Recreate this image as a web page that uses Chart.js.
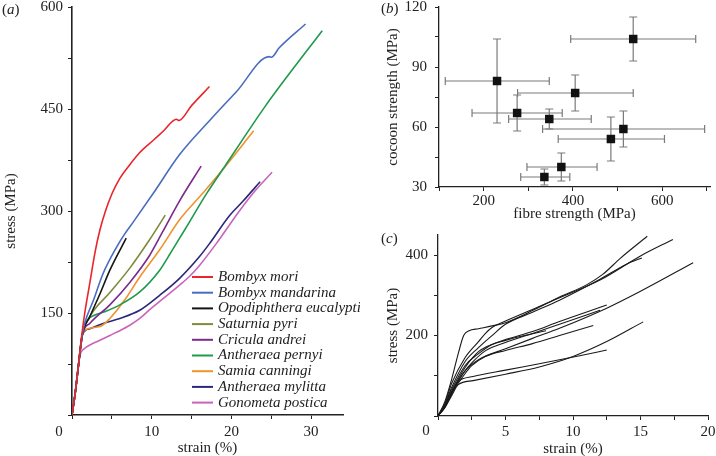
<!DOCTYPE html>
<html>
<head>
<meta charset="utf-8">
<script src="https://cdn.jsdelivr.net/npm/chart.js@4.4.0/dist/chart.umd.min.js"></script>
<style>
  html, body { margin: 0; padding: 0; background: #fff; }
  body { width: 716px; height: 456px; overflow: hidden; position: relative; font-family: 'Liberation Serif', serif; color: #222; }
  canvas { position: absolute; }
  #chartA { left: 0; top: 0; }
  #chartB { left: 360px; top: 0; }
  #chartC { left: 360px; top: 225px; }
  .tag { position: absolute; font-size: 15px; line-height: 17px; }
</style>
</head>
<body>
<canvas id="chartA" width="360" height="457"></canvas>
<canvas id="chartB" width="356" height="223"></canvas>
<canvas id="chartC" width="356" height="233"></canvas>
<div class="tag" style="left:2px;top:1px">(<i>a</i>)</div>
<div class="tag" style="left:381px;top:0px">(<i>b</i>)</div>
<div class="tag" style="left:381px;top:230px">(<i>c</i>)</div>
<script>
// ---- panel (a): stress-strain curves per species ----
const speciesNames = ['Bombyx mori', 'Bombyx mandarina', 'Opodiphthera eucalypti', 'Saturnia pyri',
  'Cricula andrei', 'Antheraea pernyi', 'Samia canningi', 'Antheraea mylitta', 'Gonometa postica'];

const moriStrain = [0, 0.4, 0.8, 1.2, 1.6, 2.25, 2.9, 3.5, 4.2, 5, 6, 7.25, 8.5, 10.2, 11.5, 13.1, 13.4, 15, 17.25];
const moriStress = [0, 32, 72, 115, 150, 195, 240, 272, 300, 325, 348, 368, 386, 404, 418, 435, 433, 455, 483];
const mandarinaStrain = [0, 0.4, 0.8, 1.3, 1.6, 2.7, 3.9, 5.6, 6.6, 7.7, 10.2, 13.5, 17.5, 20.6, 24.75, 25, 26, 29.3];
const mandarinaStress = [0, 32, 72, 118, 135, 169, 208, 247, 266, 284, 326, 383, 436, 475, 527, 526, 540, 575];
const opodStrain = [0, 0.4, 0.8, 1.3, 2.25, 3.5, 4.75, 6.8];
const opodStress = [0, 32, 72, 118, 145, 178, 213, 260];
const pyriStrain = [0, 0.4, 0.8, 1.3, 2.25, 4.75, 7.25, 9.75, 11.7];
const pyriStress = [0, 32, 72, 118, 145, 180, 216, 258, 294];
const criculaStrain = [0, 0.4, 0.8, 1.3, 2.25, 4.75, 7.25, 9.75, 11.4, 13.5, 16.2];
const criculaStress = [0, 32, 72, 118, 135, 162, 195, 235, 270, 315, 366];
const pernyiStrain = [0, 0.4, 0.8, 1.3, 2.0, 2.9, 4.1, 6, 8.5, 11, 12.25, 13.5, 14.75, 16.8, 19.3, 21.4, 24.3, 28.5, 31.4];
const pernyiStress = [0, 32, 72, 118, 140, 147, 152, 162, 181, 213, 236, 260, 284, 324, 368, 405, 455, 521, 565];
const samiaStrain = [0, 0.4, 0.8, 1.3, 1.6, 3.5, 4.75, 6.6, 8.5, 11, 13.5, 16.4, 18.5, 22.8];
const samiaStress = [0, 32, 72, 118, 125, 130, 142, 169, 203, 243, 287, 326, 355, 418];
const mylittaStrain = [0, 0.4, 0.8, 1.3, 2.25, 4, 6, 8.5, 11, 13.5, 16, 17.25, 19.75, 21.5, 23.6];
const mylittaStress = [0, 32, 72, 118, 127, 135, 142, 154, 176, 201, 233, 252, 293, 315, 343];
const posticaStrain = [0, 0.4, 0.8, 1.0, 1.5, 2.25, 3.5, 4.75, 6, 7.25, 8.5, 9.75, 11, 12.25, 13.5, 14.75, 16, 18.1, 21, 23, 25.1];
const posticaStress = [0, 32, 72, 88, 97, 103, 110, 117, 124, 132, 142, 155, 167, 179, 191, 204, 220, 252, 300, 330, 357];
const aStrainTicks = [0, 5, 10, 15, 20, 25, 30];
const aStressTicks = [0, 75, 150, 225, 300, 375, 450, 525, 600];

// ---- panel (b): fibre vs cocoon strength with error ranges ----
const fibreStrength = [535, 230, 275, 347, 405, 513, 485, 374, 336];
const fibreLow      = [395, 114, 174, 256, 276, 332, 367, 297, 283];
const fibreHigh     = [675, 347, 376, 441, 535, 695, 605, 454, 393];
const cocoonStrength = [104, 83, 67, 64, 77, 59, 54, 40, 35];
const cocoonLow      = [93, 62, 58, 59, 68, 50, 43, 33, 31];
const cocoonHigh     = [115, 104, 76, 69, 86, 68, 65, 47, 39];
const fibreTicks = [100, 200, 300, 400, 500, 600, 700];
const cocoonTicks = [30, 45, 60, 75, 90, 105, 120];

// ---- panel (c): individual fibre tests ----
const cStrain1 = [0, 0.5, 1, 1.5, 1.9, 2.3, 3, 4, 5, 7, 9, 11, 12.2, 13.5, 15.5];
const cStress1 = [0, 35, 90, 155, 200, 212, 217, 224, 232, 262, 296, 326, 352, 392, 447];
const cStrain2 = [0, 0.5, 1, 2, 3, 3.5, 4, 5, 7, 9, 12, 15, 17.4];
const cStress2 = [0, 30, 80, 145, 185, 205, 220, 236, 265, 294, 338, 398, 439];
const cStrain3 = [0, 0.5, 1, 2, 3, 4, 5, 7, 9, 12, 14, 15.1];
const cStress3 = [0, 28, 70, 135, 170, 200, 228, 258, 288, 340, 378, 393];
const cStrain4 = [0, 0.5, 1, 2, 3, 4, 5, 6, 8];
const cStress4 = [0, 25, 60, 120, 160, 178, 188, 197, 212];
const cStrain5 = [0, 0.5, 1, 2, 2.5, 3.5, 5, 7, 9, 11.5];
const cStress5 = [0, 22, 55, 105, 125, 148, 163, 180, 200, 225];
const cStrain6 = [0, 0.5, 1, 2, 2.5, 3.5, 5, 7, 9, 12];
const cStress6 = [0, 25, 58, 112, 132, 162, 183, 205, 228, 263];
const cStrain7 = [0, 0.5, 1, 2, 3, 4, 5, 7, 9, 12.5];
const cStress7 = [0, 28, 65, 125, 155, 178, 190, 210, 235, 276];
const cStrain8 = [0, 0.5, 1, 2, 3, 5, 7, 9, 12.5, 15, 18.9];
const cStress8 = [0, 24, 58, 112, 140, 167, 193, 218, 268, 310, 381];
const cStrain9 = [0, 0.5, 1, 1.5, 2.6, 5, 7.5, 10.5, 12.5];
const cStress9 = [0, 22, 55, 85, 98, 114, 130, 150, 164];
const cStrain10 = [0, 0.5, 1, 1.5, 2.6, 5, 7.5, 10, 12.5, 15.2];
const cStress10 = [0, 20, 50, 78, 88, 104, 122, 148, 185, 234];
const cStrainTicks = [0, 2.5, 5, 7.5, 10, 12.5, 15, 17.5, 20];
const cStressTicks = [0, 100, 200, 300, 400];

const toPoints = (xs, ys) => xs.map((x, i) => ({ x: x, y: ys[i] }));
const serif = 'Liberation Serif';
Chart.defaults.font.family = serif;
Chart.defaults.color = '#222';

// draws the shared "0" at the origin, a bit left of the axis
const originLabel = {
  id: 'originLabel',
  afterDraw(chart, args, opts) {
    const { ctx, scales: { x, y } } = chart;
    ctx.save();
    ctx.font = '15px "' + serif + '"';
    ctx.fillStyle = '#222';
    ctx.textAlign = 'center';
    ctx.textBaseline = 'middle';
    ctx.fillText('0', x.getPixelForValue(0) + opts.dx, y.getPixelForValue(0) + opts.dy);
    ctx.restore();
  }
};

function axisX(min, max, tickVals, label, title, fitH, pad, bw) {
  return {
    type: 'linear', min: min, max: max,
    grid: { drawOnChartArea: false, drawTicks: true, tickLength: 4, color: '#222', lineWidth: 1 },
    border: { color: '#222', width: bw },
    ticks: { autoSkip: false, maxRotation: 0, minRotation: 0, padding: pad, font: { size: 15 },
      callback: v => label(Math.round(v * 10) / 10) },
    title: { display: true, text: title, font: { size: 15 }, padding: { top: 0, bottom: 0 } },
    afterBuildTicks: s => { s.ticks = tickVals.map(v => ({ value: v })); },
    afterFit: s => { s.height = fitH; s.paddingLeft = 0; s.paddingRight = 0; }
  };
}
function axisY(min, max, tickVals, label, title, fitW, pad, tpad, bw) {
  return {
    type: 'linear', min: min, max: max,
    grid: { drawOnChartArea: false, drawTicks: true, tickLength: 4, color: '#222', lineWidth: 1 },
    border: { color: '#222', width: bw },
    ticks: { autoSkip: false, padding: pad, font: { size: 15 },
      callback: v => label(Math.round(v * 10) / 10) },
    title: { display: true, text: title, font: { size: 15 }, padding: { top: tpad, bottom: 0 } },
    afterBuildTicks: s => { s.ticks = tickVals.map(v => ({ value: v })); },
    afterFit: s => { s.width = fitW; s.paddingTop = 0; s.paddingBottom = 0; }
  };
}

// Panel (a)
const speciesColors = ['#e8262b', '#4a6cc0', '#151515', '#808a3c', '#7b2a8c', '#1f9a4c', '#f0922e', '#2a2878', '#c865b9'];
const aData = [
  [moriStrain, moriStress], [mandarinaStrain, mandarinaStress], [opodStrain, opodStress],
  [pyriStrain, pyriStress], [criculaStrain, criculaStress], [pernyiStrain, pernyiStress],
  [samiaStrain, samiaStress], [mylittaStrain, mylittaStress], [posticaStrain, posticaStress]
];

const legendA = {
  id: 'legendA',
  afterDraw(chart) {
    const ctx = chart.ctx;
    ctx.save();
    ctx.font = 'italic 15px "' + serif + '"';
    ctx.textBaseline = 'middle';
    chart.data.datasets.forEach((ds, i) => {
      const y = 277 + i * 15.7;
      ctx.strokeStyle = ds.borderColor;
      ctx.lineWidth = 2;
      ctx.beginPath();
      ctx.moveTo(192, y);
      ctx.lineTo(213, y);
      ctx.stroke();
      ctx.fillStyle = '#222';
      ctx.fillText(ds.label, 218, y);
    });
    ctx.restore();
  }
};

new Chart(document.getElementById('chartA'), {
  type: 'scatter',
  data: {
    datasets: aData.map((d, i) => ({
      label: speciesNames[i],
      data: toPoints(d[0], d[1]),
      showLine: true, pointRadius: 0, borderWidth: 1.6,
      borderColor: speciesColors[i], cubicInterpolationMode: 'monotone'
    }))
  },
  options: {
    responsive: false, animation: false,
    layout: { padding: { top: 7, right: 17, left: 0, bottom: 0 } },
    plugins: { legend: { display: false }, tooltip: { enabled: false }, originLabel: { dx: -13, dy: 17 } },
    scales: {
      x: axisX(0, 34, aStrainTicks, v => (v % 10 === 0 && v !== 0) ? String(v) : '', 'strain (%)', 42, 4, 1.6),
      y: axisY(0, 600, aStressTicks, v => (v % 150 === 0 && v !== 0) ? String(v) : '', 'stress (MPa)', 72, 5, 2, 1.6)
    }
  },
  plugins: [legendA, originLabel]
});

// Panel (b)
const errorBars = {
  id: 'errorBars',
  beforeDatasetsDraw(chart) {
    const { ctx, scales: { x, y } } = chart;
    ctx.save();
    ctx.strokeStyle = '#7a7a7a';
    ctx.lineWidth = 1.2;
    fibreStrength.forEach((f, i) => {
      const px = x.getPixelForValue(f), py = y.getPixelForValue(cocoonStrength[i]);
      const x0 = x.getPixelForValue(fibreLow[i]), x1 = x.getPixelForValue(fibreHigh[i]);
      const y0 = y.getPixelForValue(cocoonLow[i]), y1 = y.getPixelForValue(cocoonHigh[i]);
      ctx.beginPath();
      ctx.moveTo(x0, py); ctx.lineTo(x1, py);
      ctx.moveTo(x0, py - 4); ctx.lineTo(x0, py + 4);
      ctx.moveTo(x1, py - 4); ctx.lineTo(x1, py + 4);
      ctx.moveTo(px, y0); ctx.lineTo(px, y1);
      ctx.moveTo(px - 4, y0); ctx.lineTo(px + 4, y0);
      ctx.moveTo(px - 4, y1); ctx.lineTo(px + 4, y1);
      ctx.stroke();
    });
    ctx.restore();
  }
};

new Chart(document.getElementById('chartB'), {
  type: 'scatter',
  data: {
    datasets: [{
      data: toPoints(fibreStrength, cocoonStrength),
      pointStyle: 'rect', pointRadius: 6, pointBackgroundColor: '#111', pointBorderColor: '#111', pointBorderWidth: 0
    }]
  },
  options: {
    responsive: false, animation: false,
    layout: { padding: { top: 7, right: 4, left: 0, bottom: 0 } },
    plugins: { legend: { display: false }, tooltip: { enabled: false } },
    scales: {
      x: axisX(100, 707, fibreTicks, v => (v % 200 === 0) ? String(v) : '', 'fibre strength (MPa)', 36, 1, 1.3),
      y: axisY(30, 120, cocoonTicks, v => (v % 30 === 0) ? String(v) : '', 'cocoon strength (MPa)', 79, 8, 24, 1.3)
    }
  },
  plugins: [errorBars]
});

// Panel (c)
const cData = [
  [cStrain1, cStress1], [cStrain2, cStress2], [cStrain3, cStress3], [cStrain4, cStress4], [cStrain5, cStress5],
  [cStrain6, cStress6], [cStrain7, cStress7], [cStrain8, cStress8], [cStrain9, cStress9], [cStrain10, cStress10]
];
new Chart(document.getElementById('chartC'), {
  type: 'scatter',
  data: {
    datasets: cData.map(d => ({
      data: toPoints(d[0], d[1]),
      showLine: true, pointRadius: 0, borderWidth: 1.1, borderColor: '#1a1a1a',
      cubicInterpolationMode: 'monotone'
    }))
  },
  options: {
    responsive: false, animation: false,
    layout: { padding: { top: 10, right: 8, left: 0, bottom: 0 } },
    plugins: { legend: { display: false }, tooltip: { enabled: false }, originLabel: { dx: -12, dy: 15 } },
    scales: {
      x: axisX(0, 20, cStrainTicks, v => (v % 5 === 0 && v !== 0) ? String(v) : '', 'strain (%)', 42, 3, 1.3),
      y: axisY(0, 450, cStressTicks, v => (v % 200 === 0 && v !== 0) ? String(v) : '', 'stress (MPa)', 78, 6, 24, 1.3)
    }
  },
  plugins: [originLabel]
});
</script>
</body>
</html>
